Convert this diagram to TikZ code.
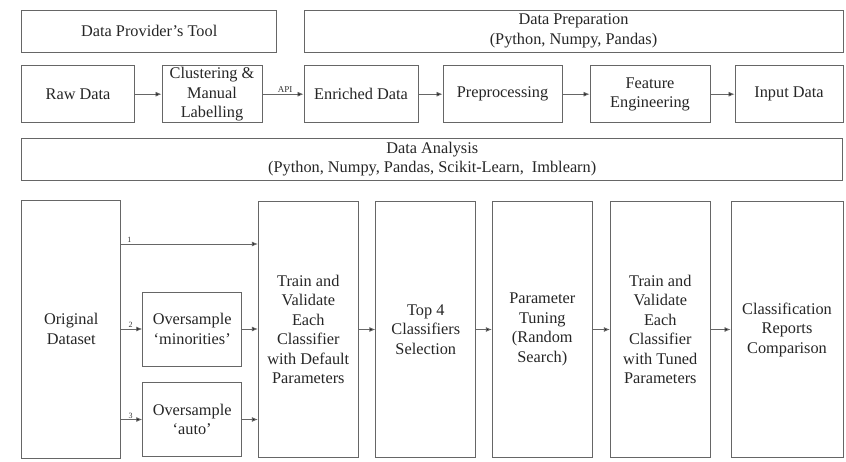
\documentclass[tikz,border=0pt]{standalone}
\usepackage{fontspec}
\setmainfont{Liberation Serif}
\usetikzlibrary{arrows.meta}
\begin{document}
\begin{tikzpicture}[x=1pt,y=-1pt,
  box/.style={draw=black!60, line width=0.9pt, inner sep=0pt, align=center,
    text=black!85, font=\fontsize{16.3}{19.5}\selectfont},
  arr/.style={draw=black!60, line width=0.8pt,
    -{Latex[length=6pt,width=5pt,fill=black!90]}},
  tag/.style={font=\fontsize{8}{9}\selectfont, text=black!80, inner sep=1pt}]
\useasboundingbox[fill=white] (0,0) rectangle (846,462);

% upper band: data provider and preparation
\node[box, minimum width=255pt, minimum height=42pt] (dpt) at (149.2,31) {Data Provider’s Tool};
\node[box, minimum width=539pt, minimum height=42pt] (prep) at (573.5,31) {Data Preparation\\(Python, Numpy, Pandas)};

\node[box, minimum width=113pt, minimum height=57pt] (raw) at (78.1,94.2) {Raw Data};
\node[box, minimum width=100pt, minimum height=57pt] (clus) at (212,94.2) {Clustering \&\\Manual\\Labelling};
\node[box, minimum width=114pt, minimum height=57pt] (enr) at (361,94.2) {Enriched Data};
\node[box, minimum width=119pt, minimum height=57pt] (pre) at (502.5,94.2) {Preprocessing};
\node[box, minimum width=120pt, minimum height=57pt] (feat) at (650,94.2) {Feature\\Engineering};
\node[box, minimum width=108pt, minimum height=57pt] (inp) at (789,94.2) {Input Data};

\draw[arr] (raw) -- (clus);
\draw[arr] (clus) -- (enr) node[pos=0.55, above, font=\fontsize{9}{10}\selectfont, text=black!80, inner sep=1pt] {API};
\draw[arr] (enr) -- (pre);
\draw[arr] (pre) -- (feat);
\draw[arr] (feat) -- (inp);

% analysis band
\node[box, minimum width=821pt, minimum height=42pt] (ana) at (432.2,159.2) {Data Analysis\\(Python, Numpy, Pandas, Scikit-Learn,\ \ Imblearn)};

\node[box, minimum width=99pt, minimum height=258pt] (orig) at (71.2,329) {Original\\Dataset};
\node[box, minimum width=99pt, minimum height=74pt] (mino) at (192.2,329) {Oversample\\‘minorities’};
\node[box, minimum width=99pt, minimum height=74pt] (auto) at (192.2,419.5) {Oversample\\‘auto’};
\node[box, minimum width=100pt, minimum height=256pt] (trn1) at (308.3,329.5) {Train and\\Validate\\Each\\Classifier\\with Default\\Parameters};
\node[box, minimum width=100pt, minimum height=256pt] (top4) at (425.8,329.5) {Top 4\\Classifiers\\Selection};
\node[box, minimum width=100pt, minimum height=256pt] (tune) at (542.3,329.5) {Parameter\\Tuning\\(Random\\Search)};
\node[box, minimum width=100pt, minimum height=256pt] (trn2) at (660.3,329.5) {Train and\\Validate\\Each\\Classifier\\with Tuned\\Parameters};
\node[box, minimum width=112pt, minimum height=256pt] (rep) at (787,329.5) {Classification\\Reports\\Comparison};

\coordinate (p1) at (0,244);
\draw[arr] (orig.east |- p1) -- node[tag, pos=0.06, above] {1} (trn1.west |- p1);
\draw[arr] (orig.east |- mino) -- node[tag, pos=0.45, above] {2} (mino.west);
\draw[arr] (orig.east |- auto) -- node[tag, pos=0.45, above] {3} (auto.west);
\draw[arr] (mino.east) -- (trn1.west |- mino);
\draw[arr] (auto.east) -- (trn1.west |- auto);
\draw[arr] (trn1) -- (top4);
\draw[arr] (top4) -- (tune);
\draw[arr] (tune) -- (trn2);
\draw[arr] (trn2) -- (rep);
\end{tikzpicture}
\end{document}
